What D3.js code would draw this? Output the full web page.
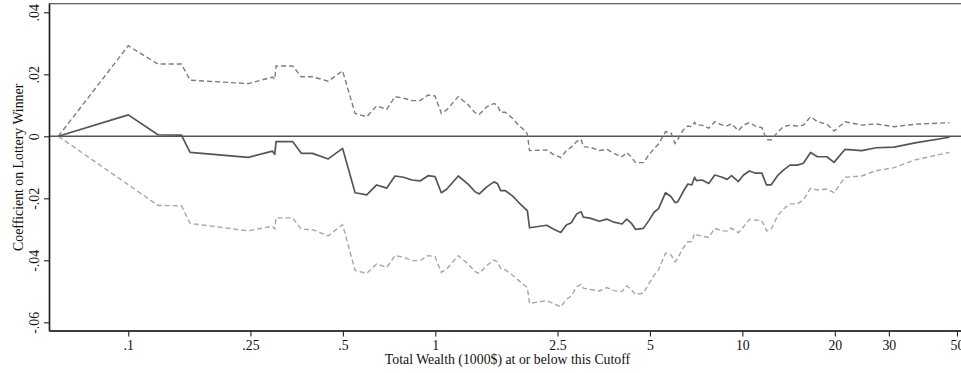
<!DOCTYPE html>
<html>
<head>
<meta charset="utf-8">
<script src="https://cdn.jsdelivr.net/npm/d3@7"></script>
<style>
  html, body { margin: 0; padding: 0; background: #fff; }
  svg { display: block; }
  text { font-family: "Liberation Serif", "Times New Roman", serif; fill: #111; }
</style>
</head>
<body>
<svg id="chart" width="961" height="373"></svg>
<script>
// Wealth cutoffs (thousand $) at which the regression is estimated
const cutoffs = [
  0.0592, 0.1, 0.125, 0.149, 0.159, 0.246, 0.295, 0.300, 0.303, 0.343,
  0.366, 0.398, 0.448, 0.499, 0.548, 0.598, 0.644, 0.695, 0.739, 0.788,
  0.840, 0.892, 0.947, 0.998, 1.046, 1.089, 1.188, 1.281, 1.347, 1.391,
  1.471, 1.553, 1.592, 1.633, 1.687, 1.784, 1.864, 1.960, 1.994, 2.027,
  2.306, 2.423, 2.562, 2.672, 2.773, 2.884, 2.983, 3.035, 3.191, 3.421,
  3.616, 3.820, 4.056, 4.202, 4.356, 4.488, 4.759, 4.959, 5.158, 5.333,
  5.622, 5.860, 6.038, 6.166, 6.411, 6.647, 6.844, 6.989, 7.084, 7.393,
  7.774, 8.131, 8.601, 8.918, 9.223, 9.705, 10.09, 10.54, 11.04, 11.57,
  11.99, 12.40, 13.07, 13.60, 14.30, 15.11, 15.80, 16.68, 17.55, 18.84,
  19.89, 21.60, 24.48, 27.26, 31.20, 36.51, 47.25
];

// Point estimate of the lottery-winner coefficient
const coef = [
  0, 0.0069, 0.0005, 0.0004, -0.0052, -0.0068, -0.0048, -0.0058, -0.0017, -0.0017,
  -0.0055, -0.0055, -0.0073, -0.0039, -0.0182, -0.0189, -0.0157, -0.0167, -0.0128, -0.0132,
  -0.0141, -0.0144, -0.0127, -0.0130, -0.0182, -0.0171, -0.0128, -0.0155, -0.0179, -0.0186,
  -0.0163, -0.0147, -0.0152, -0.0175, -0.0175, -0.0192, -0.0212, -0.0233, -0.0240, -0.0295,
  -0.0287, -0.0299, -0.0310, -0.0286, -0.0279, -0.0251, -0.0243, -0.0261, -0.0264, -0.0274,
  -0.0267, -0.0277, -0.0283, -0.0267, -0.0281, -0.0300, -0.0297, -0.0272, -0.0245, -0.0233,
  -0.0182, -0.0195, -0.0214, -0.0211, -0.0179, -0.0154, -0.0157, -0.0132, -0.0143, -0.0141,
  -0.0152, -0.0125, -0.0132, -0.0139, -0.0127, -0.0146, -0.0125, -0.0112, -0.0119, -0.0119,
  -0.0157, -0.0157, -0.0125, -0.0109, -0.0093, -0.0093, -0.0087, -0.0052, -0.0066, -0.0066,
  -0.0084, -0.0042, -0.0046, -0.0037, -0.0035, -0.0021, -0.0003
];

// Upper bound of the confidence interval
const upperCI = [
  0, 0.0292, 0.0233, 0.0233, 0.0181, 0.0170, 0.0191, 0.0184, 0.0227, 0.0227,
  0.0192, 0.0192, 0.0178, 0.0211, 0.0074, 0.0063, 0.0098, 0.0087, 0.0128, 0.0123,
  0.0115, 0.0115, 0.0133, 0.0130, 0.0074, 0.0085, 0.0128, 0.0101, 0.0076, 0.0071,
  0.0095, 0.0106, 0.0100, 0.0077, 0.0078, 0.0058, 0.0036, 0.0018, 0.0007, -0.0046,
  -0.0044, -0.0058, -0.0069, -0.0046, -0.0035, -0.0017, -0.0010, -0.0034, -0.0035, -0.0046,
  -0.0042, -0.0055, -0.0066, -0.0052, -0.0068, -0.0085, -0.0085, -0.0060, -0.0040, -0.0025,
  0.0015, 0.0010, -0.0023, -0.0010, 0.0020, 0.0033, 0.0031, 0.0045, 0.0036, 0.0036,
  0.0026, 0.0047, 0.0036, 0.0034, 0.0040, 0.0018, 0.0036, 0.0044, 0.0033, 0.0028,
  -0.0010, -0.0012, 0.0015, 0.0031, 0.0036, 0.0033, 0.0036, 0.0063, 0.0047, 0.0040,
  0.0017, 0.0047, 0.0036, 0.0040, 0.0031, 0.0039, 0.0044
];

// Lower bound of the confidence interval
const lowerCI = [
  0, -0.0156, -0.0223, -0.0224, -0.0281, -0.0305, -0.0290, -0.0299, -0.0263, -0.0263,
  -0.0300, -0.0301, -0.0321, -0.0285, -0.0433, -0.0442, -0.0412, -0.0423, -0.0385, -0.0390,
  -0.0401, -0.0401, -0.0385, -0.0388, -0.0439, -0.0428, -0.0385, -0.0412, -0.0437, -0.0442,
  -0.0417, -0.0399, -0.0405, -0.0426, -0.0430, -0.0448, -0.0464, -0.0482, -0.0488, -0.0539,
  -0.0530, -0.0539, -0.0550, -0.0526, -0.0515, -0.0486, -0.0478, -0.0490, -0.0494, -0.0499,
  -0.0488, -0.0498, -0.0501, -0.0482, -0.0496, -0.0510, -0.0506, -0.0476, -0.0448, -0.0430,
  -0.0377, -0.0383, -0.0405, -0.0392, -0.0361, -0.0340, -0.0340, -0.0313, -0.0318, -0.0322,
  -0.0326, -0.0297, -0.0305, -0.0306, -0.0296, -0.0311, -0.0292, -0.0268, -0.0270, -0.0272,
  -0.0305, -0.0300, -0.0254, -0.0235, -0.0218, -0.0218, -0.0205, -0.0168, -0.0173, -0.0170,
  -0.0182, -0.0132, -0.0128, -0.0111, -0.0101, -0.0076, -0.0052
];

// Axis ticks
const xTickValues = [0.1, 0.25, 0.5, 1, 2.5, 5, 10, 20, 30, 50];
const xTickLabels = [".1", ".25", ".5", "1", "2.5", "5", "10", "20", "30", "50"];
const yTickValues = [0.04, 0.02, 0, -0.02, -0.04, -0.06];
const yTickLabels = [".04", ".02", "0", "-.02", "-.04", "-.06"];

const xTitle = "Total Wealth (1000$) at or below this Cutoff";
const yTitle = "Coefficient on Lottery Winner";

const svg = d3.select("#chart");
const plotL = 49.5, plotR = 966, plotT = 3.7, plotB = 331;
const fontSize = "13.8px";
const serif = '"Liberation Serif", "Times New Roman", serif';

const x = d3.scaleLog().domain([0.0554, 53.5]).range([plotL, plotR]);
const y = d3.scaleLinear().domain([-0.06, 0.04]).range([322.3, 12.3]);

// Plot frame
svg.append("rect")
  .attr("x", plotL).attr("y", plotT)
  .attr("width", plotR - plotL).attr("height", plotB - plotT)
  .attr("fill", "none").attr("stroke", "#555").attr("stroke-width", 1.2);

// Zero reference line
svg.append("line")
  .attr("x1", plotL).attr("x2", plotR)
  .attr("y1", y(0)).attr("y2", y(0))
  .attr("stroke", "#555").attr("stroke-width", 1.5);

const rows = cutoffs.map((c, i) => ({ c, b: coef[i], hi: upperCI[i], lo: lowerCI[i] }));

const lineOf = key => d3.line().x(d => x(d.c)).y(d => y(d[key]));

svg.append("path").datum(rows)
  .attr("d", lineOf("hi"))
  .attr("fill", "none").attr("stroke", "#7c7c7c").attr("stroke-width", 1.4)
  .attr("stroke-dasharray", "5,3");

svg.append("path").datum(rows)
  .attr("d", lineOf("lo"))
  .attr("fill", "none").attr("stroke", "#a6a6a6").attr("stroke-width", 1.4)
  .attr("stroke-dasharray", "5,3");

svg.append("path").datum(rows)
  .attr("d", lineOf("b"))
  .attr("fill", "none").attr("stroke", "#555").attr("stroke-width", 1.7)
  .attr("stroke-linejoin", "round");

// X axis
const xAxis = d3.axisBottom(x)
  .tickValues(xTickValues)
  .tickFormat((d, i) => xTickLabels[i])
  .tickSize(5.5)
  .tickSizeOuter(0);

const gx = svg.append("g").attr("transform", `translate(0,${plotB})`).call(xAxis);
gx.select(".domain").attr("stroke", "#222").attr("stroke-width", 1.6)
  .attr("d", `M${plotL},0H${plotR}`);
gx.selectAll(".tick line").attr("stroke", "#222").attr("stroke-width", 1.1);
gx.selectAll(".tick text")
  .attr("y", 18.5).attr("dy", null)
  .style("font-size", fontSize)
  .style("font-family", serif)
  .attr("fill", "#111");

// Y axis with rotated labels
const yAxis = d3.axisLeft(y)
  .tickValues(yTickValues)
  .tickFormat((d, i) => yTickLabels[i])
  .tickSize(5.5)
  .tickSizeOuter(0);

const gy = svg.append("g").attr("transform", `translate(${plotL},0)`).call(yAxis);
gy.select(".domain").attr("stroke", "#222").attr("stroke-width", 1.6)
  .attr("d", `M0,${plotT}V${plotB}`);
gy.selectAll(".tick line").attr("stroke", "#222").attr("stroke-width", 1.1);
gy.selectAll(".tick text")
  .attr("x", null).attr("y", null).attr("dy", null)
  .attr("text-anchor", "middle")
  .attr("transform", "translate(-11,0) rotate(-90)")
  .style("font-size", fontSize)
  .style("font-family", serif)
  .attr("fill", "#111");

// Axis titles
svg.append("text")
  .attr("x", 507.5).attr("y", 364.3)
  .attr("text-anchor", "middle")
  .style("font-size", fontSize)
  .text(xTitle);

svg.append("text")
  .attr("transform", `translate(22.5,${(plotT + plotB) / 2}) rotate(-90)`)
  .attr("text-anchor", "middle")
  .style("font-size", fontSize)
  .text(yTitle);
</script>
</body>
</html>
